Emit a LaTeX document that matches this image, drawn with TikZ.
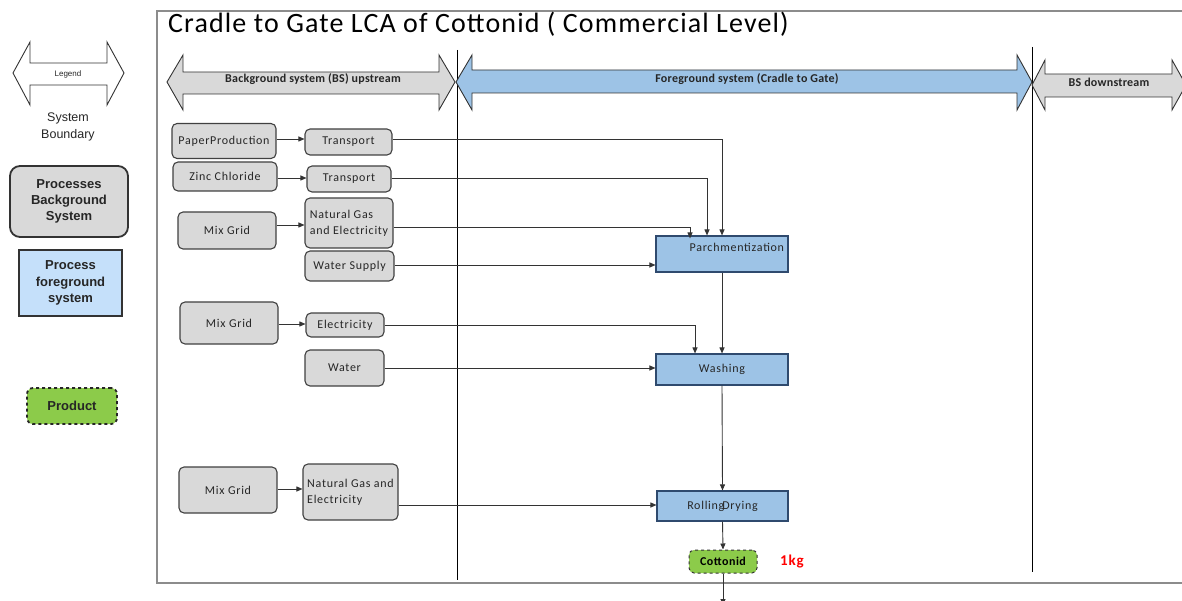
\documentclass[tikz,border=0pt]{standalone}
\usepackage{fontspec}
\setmainfont{Carlito}
\newfontfamily\arialf{Liberation Sans}
\usetikzlibrary{arrows.meta}
\definecolor{bxgray}{HTML}{D9D9D9}
\definecolor{bxline}{HTML}{404040}
\definecolor{fgblue}{HTML}{9DC3E6}
\definecolor{fgline}{HTML}{2F4A6E}
\definecolor{lgblue}{HTML}{C5E0FA}
\definecolor{prodgreen}{HTML}{8CCB4A}
\definecolor{framegray}{HTML}{8C8C8C}
\definecolor{txtgray}{HTML}{262626}
\newcommand\myboxfont{\fontsize{12}{16}\selectfont\addfontfeature{LetterSpace=6}}
\newcommand\mybandfont{\bfseries\fontsize{12}{14}\selectfont\addfontfeature{LetterSpace=2}}
\tikzset{
  bgbox/.style={draw=bxline, fill=bxgray, rounded corners=5pt, line width=1.1pt, inner sep=0pt, font=\myboxfont, text=txtgray},
  fgbox/.style={draw=fgline, fill=fgblue, line width=1.1pt, inner sep=0pt, font=\myboxfont, text=txtgray},
  prodbox/.style={draw=black!80, fill=prodgreen, dashed, rounded corners=5pt, line width=1pt, inner sep=0pt},
  band/.style={draw=black!80, line width=0.9pt, line join=miter},
  bandlabel/.style={font=\mybandfont, text=black!85},
  conn/.style={draw=black!80, line width=0.9pt, -{Triangle[length=6pt,width=5pt]}},
  bound/.style={draw=black, line width=0.9pt},
  lgtext/.style={font=\arialf\bfseries\fontsize{13}{16.3}\selectfont, align=center, text=black!85}
}
\begin{document}
\begin{tikzpicture}[x=1pt,y=-1pt]
\useasboundingbox (0,0) rectangle (1182,601);
% frame
\draw[framegray, line width=2.2pt] (1195,11) -- (157,11) -- (157,583) -- (1195,583);
% title
\node[anchor=base west, font=\fontsize{28}{32}\selectfont\addfontfeature{LetterSpace=4}, inner sep=0pt] (title) at (168,33) {Cradle to Gate LCA of Cottonid ( Commercial Level)};
% boundary lines
\coordinate (b1t) at (457,50); \coordinate (b1b) at (457,580);
\coordinate (b2t) at (1032,47); \coordinate (b2b) at (1032,572);
\draw[bound] (b1t) -- (b1b);
\draw[bound] (b2t) -- (b2b);
% band arrows
\draw[band, fill=bxgray] (167,82) -- (183,55) -- (183,72) -- (439,72) -- (439,55) -- (455,82) -- (439,110) -- (439,94) -- (183,94) -- (183,110) -- cycle;
\node[bandlabel] (bsup) at (313,79) {Background system (BS) upstream};
\draw[band, fill=fgblue] (456,82) -- (472,55) -- (472,70) -- (1017,70) -- (1017,55) -- (1032,82) -- (1017,110) -- (1017,93) -- (472,93) -- (472,110) -- cycle;
\node[bandlabel] (fgsys) at (747,79) {Foreground system (Cradle to Gate)};
\draw[band, fill=bxgray] (1032,85) -- (1045,60) -- (1045,74) -- (1172,74) -- (1172,60) -- (1186,85) -- (1172,110) -- (1172,97) -- (1045,97) -- (1045,110) -- cycle;
\node[bandlabel] (bsdown) at (1109,82) {BS downstream};
% legend
\draw[band, fill=white] (13,73) -- (30,42) -- (30,63) -- (107,63) -- (107,42) -- (124,73) -- (107,105) -- (107,85) -- (30,85) -- (30,105) -- cycle;
\node[font=\arialf\fontsize{8}{9}\selectfont, text=txtgray] (leg) at (68,74) {Legend};
\node[font=\arialf\fontsize{12.5}{17}\selectfont, align=center, text=txtgray] (sysb) at (68,127) {System\\Boundary};
\node[draw=black!80, fill=bxgray, rounded corners=10pt, line width=1.8pt, minimum width=118pt, minimum height=71pt, lgtext] (lgbg) at (69,201.5) {Processes\\Background\\System};
\node[draw=black!80, fill=lgblue, line width=1.5pt, minimum width=103pt, minimum height=66pt, lgtext] (lgfg) at (70.5,283) {Process\\foreground\\system};
\node[draw=black!85, fill=prodgreen, dashed, rounded corners=6pt, line width=1.8pt, minimum width=90pt, minimum height=36pt, lgtext] (lgprod) at (72,406) {Product};
% background process boxes
\node[bgbox, minimum width=104pt, minimum height=35pt] (pp) at (224,141) {PaperProduction};
\node[bgbox, minimum width=87pt, minimum height=26pt] (t1) at (348.5,142) {Transport};
\node[bgbox, minimum width=104pt, minimum height=29pt] (zc) at (225,176.5) {Zinc Chloride};
\node[bgbox, minimum width=84pt, minimum height=26pt] (t2) at (349,179) {Transport};
\node[bgbox, minimum width=98pt, minimum height=37pt] (mg1) at (227,230.5) {Mix Grid};
\node[bgbox, minimum width=88pt, minimum height=50pt, align=left] (ng1) at (349,223) {Natural Gas\\and Electricity};
\node[bgbox, minimum width=89pt, minimum height=30pt] (ws) at (349.5,266) {Water Supply};
\node[bgbox, minimum width=98pt, minimum height=42pt] (mg2) at (229,323) {Mix Grid};
\node[bgbox, minimum width=78pt, minimum height=24pt] (el) at (345,325) {Electricity};
\node[bgbox, minimum width=79pt, minimum height=36pt] (wat) at (344.5,368) {Water};
\node[bgbox, minimum width=98pt, minimum height=46pt] (mg3) at (228,490) {Mix Grid};
\node[bgbox, minimum width=95pt, minimum height=56pt, align=left] (ng2) at (350.5,492) {Natural Gas and\\Electricity};
% foreground
\node[fgbox, minimum width=132pt, minimum height=36pt, text width=124pt, align=right] (parch) at (722,254) {Parchmentization\\[-3pt]\mbox{}};
\node[fgbox, minimum width=132pt, minimum height=31pt] (wash) at (722,369.5) {Washing};
\node[fgbox, minimum width=131pt, minimum height=30pt] (roll) at (722.5,506) {Rolling\kern-2pt Drying};
\node[prodbox, minimum width=68pt, minimum height=23pt, font=\bfseries\fontsize{12}{14}\selectfont\addfontfeature{LetterSpace=4}] (cot) at (723,561.5) {Cottonid};
\node[font=\bfseries\fontsize{15}{17}\selectfont\addfontfeature{LetterSpace=6}, text=red] (kg) at (792,562) {1kg};
\coordinate (out) at (723,605);
% connectors left
\draw[conn] (pp.east |- 0,139) -- (t1.west |- 0,139);
\draw[conn] (zc.east |- 0,178) -- (t2.west |- 0,178);
\draw[conn] (mg1.east |- 0,225) -- (ng1.west |- 0,225);
\draw[conn] (mg2.east |- 0,324) -- (el.west |- 0,324);
\draw[conn] (mg3.east |- 0,489) -- (ng2.west |- 0,489);
% connectors to foreground
\draw[conn] (t1.east |- 0,139) -| (parch.north);
\draw[conn] (t2.east |- 0,178) -| ([xshift=-15pt]parch.north);
\draw[conn] (ng1.east |- 0,227) -| ([xshift=-32pt,yshift=-3pt]parch.north);
\draw[conn] (ws.east |- 0,265) -- (parch.west |- 0,265);
\draw[conn] (parch.south) -- (wash.north);
\draw[conn] (el.east |- 0,325) -| ([xshift=-27pt]wash.north);
\draw[conn] (wat.east |- 0,368) -- (wash.west |- 0,368);
\draw[conn] (wash.south) -- (roll.north);
\draw[conn] (ng2.east |- 0,505) -- (roll.west |- 0,505);
\draw[conn] (roll.south) -- (cot.north);
\draw[conn] (cot.south) -- (out);
\end{tikzpicture}
\end{document}
